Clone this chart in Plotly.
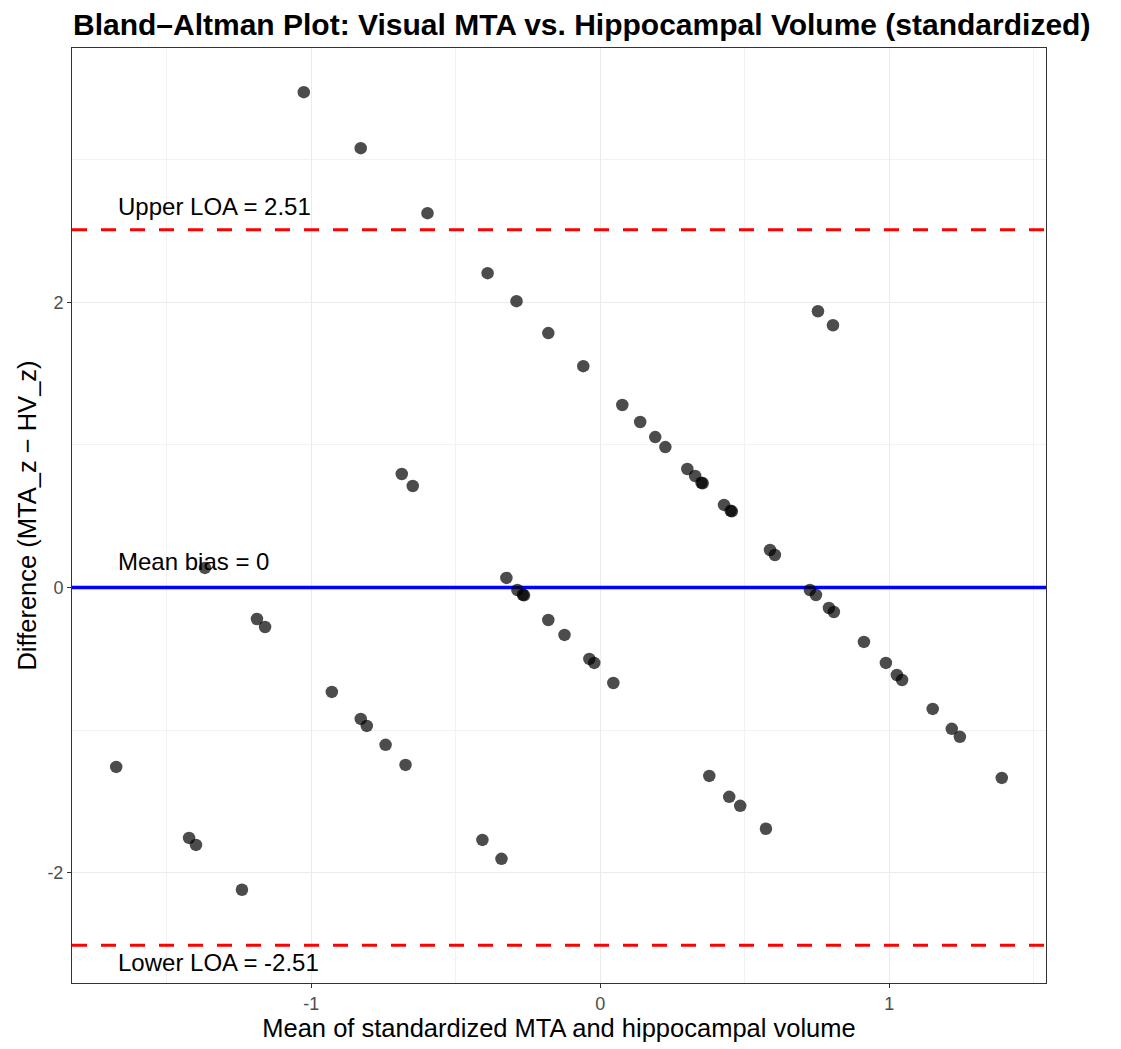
import plotly.graph_objects as go

# Mean of standardized MTA and hippocampal volume
mean_vals = [-1.026, -0.829, -0.598, -0.390, -0.290, -0.180, -0.059, 0.076, 0.138, 0.190,
             0.225, 0.301, 0.328, 0.350, 0.354, 0.428, 0.451, 0.455, 0.587, 0.604,
             0.725, 0.746, 0.791, 0.808, 0.912, 0.988, 1.026, 1.044, 1.150, 1.216,
             1.244, 1.389, 0.753, 0.805, -0.687, -0.649, -1.368, -0.325, -0.287, -0.268,
             -0.264, -0.180, -0.124, -0.038, -0.021, 0.045, -1.188, -1.160, -0.929, -0.829,
             -0.808, -0.743, -0.674, -1.675, -0.408, -0.342, -1.423, -1.399, -1.240, 0.377,
             0.446, 0.484, 0.573]
# Difference (MTA_z - HV_z)
diff_vals = [3.475, 3.082, 2.626, 2.205, 2.009, 1.785, 1.553, 1.280, 1.161, 1.055,
             0.985, 0.831, 0.782, 0.735, 0.731, 0.579, 0.538, 0.534, 0.263, 0.228,
             -0.018, -0.053, -0.144, -0.172, -0.382, -0.529, -0.614, -0.649, -0.852, -0.992,
             -1.048, -1.336, 1.938, 1.840, 0.796, 0.712, 0.137, 0.067, -0.018, -0.051,
             -0.055, -0.228, -0.333, -0.501, -0.529, -0.670, -0.221, -0.277, -0.733, -0.922,
             -0.971, -1.104, -1.245, -1.259, -1.771, -1.904, -1.757, -1.806, -2.121, -1.322,
             -1.469, -1.532, -1.693]

mean_bias = 0.0
upper_loa = 2.51
lower_loa = -2.51

x_ticks = [-1, 0, 1]
y_ticks = [-2, 0, 2]

x_range = [-1.828, 1.542]
y_range = [-2.775, 3.785]

x_min = min(mean_vals)
FONT = "Liberation Sans, Arial, sans-serif"

fig = go.Figure()

# reference lines (drawn under the points, above the grid)
for yv, col, w, dash in [(upper_loa, "#FF0000", 3, "15px,14px"),
                         (lower_loa, "#FF0000", 3, "15px,14px"),
                         (mean_bias, "#0000FF", 3.5, "solid")]:
    fig.add_trace(go.Scatter(x=x_range, y=[yv, yv], mode="lines",
                             line=dict(color=col, width=w, dash=dash),
                             showlegend=False, hoverinfo="skip"))

fig.add_trace(go.Scatter(
    x=mean_vals, y=diff_vals, mode="markers",
    marker=dict(size=12.5, color="rgba(0,0,0,0.7)", line=dict(width=0)),
    showlegend=False, hoverinfo="x+y"))

ann_font = dict(family=FONT, size=24, color="black")
fig.add_annotation(x=x_min, y=upper_loa, text=f"Upper LOA = {upper_loa:.2f}",
                   xanchor="left", yanchor="middle", yshift=23, showarrow=False, font=ann_font)
fig.add_annotation(x=x_min, y=mean_bias, text=f"Mean bias = {mean_bias:g}",
                   xanchor="left", yanchor="middle", yshift=26, showarrow=False, font=ann_font)
fig.add_annotation(x=x_min, y=lower_loa, text=f"Lower LOA = {lower_loa:.2f}",
                   xanchor="left", yanchor="middle", yshift=-17, showarrow=False, font=ann_font)

axis_common = dict(
    showgrid=True, gridcolor="#EBEBEB", gridwidth=1.3,
    zeroline=False, showline=True, linecolor="#333333", linewidth=1, mirror=True,
    ticks="outside", ticklen=4, tickcolor="#333333", tickwidth=1,
    tickfont=dict(family=FONT, size=18, color="#4D4D4D"),
    minor=dict(showgrid=True, gridcolor="#F2F2F2", gridwidth=0.8, ticks=""),
)

fig.update_layout(
    width=1121, height=1049,
    paper_bgcolor="white", plot_bgcolor="white",
    margin=dict(l=64, r=83, t=40, b=74),
    title=dict(text="<b>Bland–Altman Plot: Visual MTA vs. Hippocampal Volume (standardized)</b>",
               x=65/1121, xanchor="left", xref="container", y=1 - 16/1049, yanchor="middle",
               yref="container",
               font=dict(family=FONT, size=30, color="black")),
    xaxis=dict(range=x_range, tickvals=x_ticks, ticktext=[str(v) for v in x_ticks],
               title=dict(text="Mean of standardized MTA and hippocampal volume",
                          font=dict(family=FONT, size=25.5, color="black"),
                          standoff=3),
               **axis_common),
    yaxis=dict(range=y_range, tickvals=y_ticks, ticktext=[str(v) for v in y_ticks],
               title=dict(text="Difference (MTA_z − HV_z)",
                          font=dict(family=FONT, size=25.5, color="black"),
                          standoff=3),
               **axis_common),
)
fig.update_xaxes(minor=dict(tickvals=[-1.5, -0.5, 0.5, 1.5]))
fig.update_yaxes(minor=dict(tickvals=[-1, 1, 3]))

fig.write_html("out.html")
